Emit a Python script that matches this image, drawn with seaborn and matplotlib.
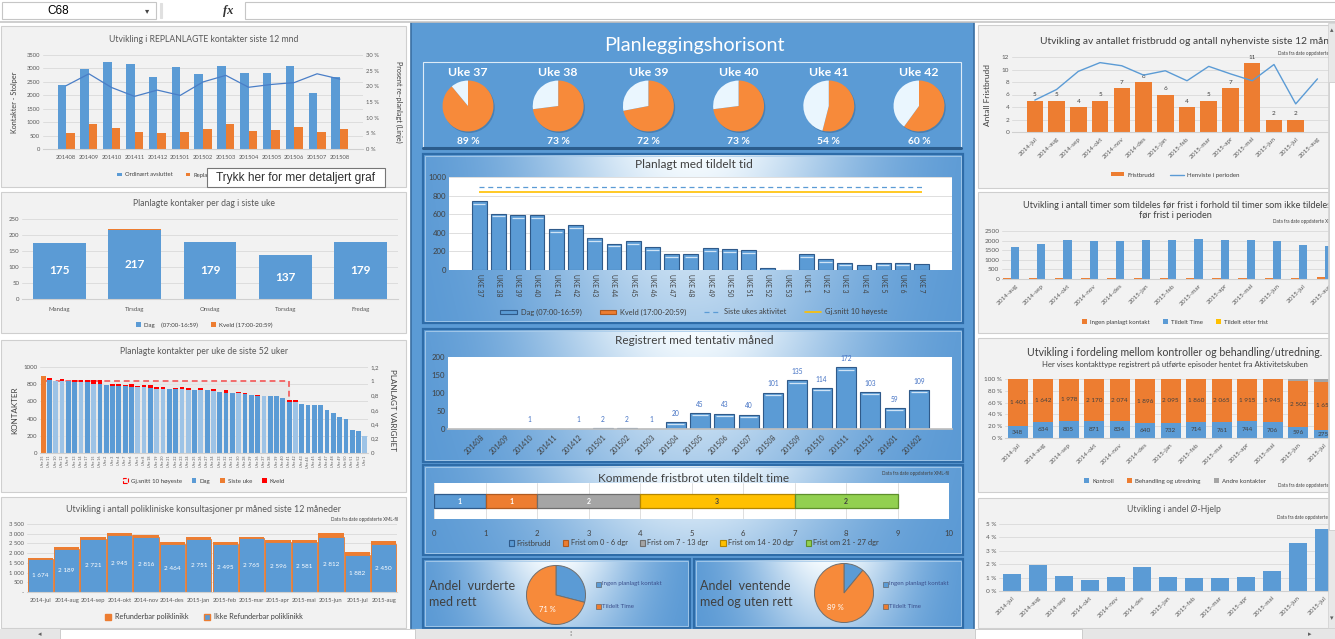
import numpy as np
import pandas as pd
import matplotlib
matplotlib.use('Agg')
import matplotlib.pyplot as plt
import matplotlib.colors as mcolors
from matplotlib.patches import Rectangle, Patch, Circle
from matplotlib.lines import Line2D
import seaborn as sns

# ---------------- data ----------------
# Utvikling i REPLANLAGTE kontakter siste 12 mnd
repl_mnd = ['201408', '201409', '201410', '201411', '201412', '201501', '201502',
            '201503', '201504', '201505', '201506', '201507', '201508']
ordinaert = [2380, 2970, 3230, 3150, 2670, 3050, 2790, 3080, 2820, 2820, 3080, 2080, 2670]
replanlagte = [600, 940, 790, 640, 600, 640, 750, 940, 680, 720, 830, 640, 750]
pct_replan = [20.2, 24.0, 19.6, 16.8, 18.8, 17.1, 21.4, 23.5, 19.7, 20.6, 21.2, 24.0, 22.3]

# Planlagte kontaker per dag i siste uke
dager = ['Mandag', 'Tirsdag', 'Onsdag', 'Torsdag', 'Fredag']
dag_antall = [175, 217, 179, 137, 179]
kveld_antall = [0, 3, 0, 0, 0]

# Planlagte kontakter per uke de siste 52 uker (sortert etter antall)
uke52 = ['35', '11', '10', '12', '9', '13', '14', '17', '15', '16', '2', '3', '4',
         '7', '6', '5', '8', '18', '19', '20', '21', '22', '23', '24', '25', '26',
         '27', '34', '33', '32', '31', '30', '28', '29', '36', '37', '38', '39', '40',
         '41', '42', '43', '44', '45', '46', '47', '48', '49', '50', '51', '52', '1']
uke52_dag = [890, 852, 840, 832, 832, 820, 820, 820, 808, 808, 793, 781, 781, 781, 770, 770,
             770, 758, 750, 742, 742, 742, 742, 734, 734, 734, 734, 723, 711, 695, 703, 695,
             688, 676, 664, 664, 664, 664, 640, 594, 594, 570, 559, 559, 559, 500, 469, 418,
             395, 266, 254, 199]
uke52_kveld = [8, 23, 0, 31, 8, 31, 31, 31, 43, 43, 0, 27, 27, 12, 38, 11, 23, 35, 20, 28,
               0, 12, 28, 24, 0, 24, 0, 23, 0, 39, 0, 16, 15, 0, 12, 0, 0, 0, 0, 23, 23,
               0, 0, 0, 0, 0, 0, 0, 0, 0, 0, 0]
uke52_type = ['S', 'D', 'L', 'L', 'D', 'D', 'L', 'D', 'L', 'D', 'D', 'D', 'D', 'D', 'D', 'L',
              'L', 'D', 'L', 'L', 'D', 'D', 'L', 'L', 'D', 'L', 'D', 'L', 'D', 'D', 'D', 'L',
              'D', 'D', 'D', 'L', 'D', 'D', 'D', 'D', 'L', 'D', 'D', 'D', 'D', 'D', 'D', 'D',
              'D', 'D', 'D', 'L']
gj_snitt_varighet = [0] + [1] * 39 + [0] * 12

# Utvikling i antall polikliniske konsultasjoner
poli_mnd = ['2014-jul', '2014-aug', '2014-sep', '2014-okt', '2014-nov', '2014-des', '2015-jan',
            '2015-feb', '2015-mar', '2015-apr', '2015-mai', '2015-jun', '2015-jul', '2015-aug']
ikke_refunderbar = [1674, 2189, 2721, 2945, 2816, 2464, 2751, 2495, 2765, 2596, 2581, 2812, 1882, 2450]
refunderbar = [90, 115, 86, 105, 130, 100, 90, 87, 77, 90, 105, 238, 163, 184]

# Planleggingshorisont
uker_pie = ['Uke 37', 'Uke 38', 'Uke 39', 'Uke 40', 'Uke 41', 'Uke 42']
andel_tildelt = [89, 73, 72, 73, 54, 60]

# Planlagt med tildelt tid
uker_tid = ['UKE 37', 'UKE 38', 'UKE 39', 'UKE 40', 'UKE 41', 'UKE 42', 'UKE 43', 'UKE 44',
            'UKE 45', 'UKE 46', 'UKE 47', 'UKE 48', 'UKE 49', 'UKE 50', 'UKE 51', 'UKE 52',
            'UKE 53', 'UKE 1', 'UKE 2', 'UKE 3', 'UKE 4', 'UKE 5', 'UKE 6', 'UKE 7']
dag_tid = [737, 604, 590, 590, 439, 482, 342, 284, 309, 245, 169, 169, 234, 223, 212, 22,
           0, 169, 115, 79, 50, 79, 79, 61]
siste_ukes_aktivitet = 890
gj_snitt_10_hoyeste = 835

# Registrert med tentativ måned
tent_mnd = ['201408', '201409', '201410', '201411', '201412', '201501', '201502', '201503',
            '201504', '201505', '201506', '201507', '201508', '201509', '201510', '201511',
            '201512', '201601', '201602']
tent_antall = [0, 0, 1, 0, 1, 2, 2, 1, 20, 45, 43, 40, 101, 135, 114, 172, 103, 59, 109]

# Kommende fristbrot uten tildelt time
frist_kat = ['Fristbrudd', 'Frist om 0 - 6 dgr', 'Frist om 7 - 13 dgr',
             'Frist om 14 - 20 dgr', 'Frist om 21 - 27 dgr']
frist_antall = [1, 1, 2, 3, 2]

# Andel-kaker (Ingen planlagt kontakt, Tildelt Time)
andel_vurderte = [29, 71]
andel_ventende = [11, 89]

# Fristbrudd og nyhenviste
fristbrudd = [5, 5, 4, 5, 7, 8, 6, 4, 5, 7, 11, 2, 2]
henviste = [5.1, 6.8, 9.7, 11.1, 10.6, 9.1, 9.8, 8.2, 10.5, 9.3, 8.2, 10.8, 4.5, 8.5]

# Timer tildelt før frist
timer_mnd = ['2014-aug', '2014-sep', '2014-okt', '2014-nov', '2014-des', '2015-jan', '2015-feb',
             '2015-mar', '2015-apr', '2015-mai', '2015-jun', '2015-jul', '2015-aug']
ingen_planlagt = [50, 50, 50, 50, 50, 50, 50, 50, 50, 50, 50, 50, 105]
tildelt_time = [1672, 1831, 2042, 1990, 1990, 2042, 2042, 2095, 2042, 2042, 1990, 1778, 1725]
tildelt_etter = [0, 0, 0, 0, 0, 0, 0, 0, 0, 0, 0, 0, 0]

# Fordeling kontroll / behandling
ford_mnd = poli_mnd[:13]
kontroll = [348, 634, 805, 871, 834, 640, 732, 714, 761, 744, 706, 596, 275]
behandling = [1401, 1642, 1978, 2170, 2074, 1896, 2095, 1860, 2065, 1915, 1945, 2502, 1655]
andre = [0, 0, 0, 0, 0, 0, 0, 0, 0, 0, 0, 130, 100]

# Andel Ø-hjelp (%)
ohjelp_pct = [1.3, 1.95, 1.15, 0.85, 1.05, 1.8, 1.05, 1.0, 1.0, 1.05, 1.5, 3.6, 4.6]

# ---------------- style ----------------
BLUE = '#5B9BD5'
ORANGE = '#ED7D31'
LBLUE = '#9DC3E6'
RED = '#FF0000'
GRAY = '#A5A5A5'
YELLOW = '#FFC000'
GREEN = '#92D050'
PIE_OR = '#F78A3A'
PIE_LT = '#EAF6FE'
PANEL = '#F2F2F2'
TXT = '#595959'
DARK = '#404040'
CBLUE = '#5B9BD5'

sns.set_theme(style='white')
plt.rcParams['font.family'] = ['Lato', 'DejaVu Sans']
plt.rcParams['patch.force_edgecolor'] = False
plt.rcParams['patch.edgecolor'] = 'none'

W, H = 1335, 639
fig = plt.figure(figsize=(W / 100, H / 100), dpi=100)
fig.patch.set_facecolor('white')


def px_axes(x, y, w, h, z=2):
    ax = fig.add_axes([x / W, 1 - (y + h) / H, w / W, h / H])
    ax.set_zorder(z)
    return ax


bg = px_axes(0, 0, W, H, z=0)
bg.axis('off')


def txt(x, y, s, size=6, color=TXT, ha='center', va='center', ax=None, z=6, **kw):
    (ax or bg).text(x, y, s, fontsize=size, color=color, ha=ha, va=va, zorder=z, **kw)


def box(x, y, w, h, fc, ec=None, lw=0.8, ax=None, z=1):
    (ax or bg).add_patch(Rectangle((x, y), w, h, fc=fc, ec=ec or fc, lw=lw, zorder=z))


def light_style(ax, size=4.4):
    ax.set_facecolor('none')
    for s in ax.spines.values():
        s.set_visible(False)
    ax.spines['bottom'].set_visible(True)
    ax.spines['bottom'].set_color('#D0D0D0')
    ax.spines['bottom'].set_linewidth(0.8)
    ax.yaxis.grid(True, color='#D9D9D9', lw=0.6)
    ax.xaxis.grid(False)
    ax.set_axisbelow(True)
    ax.tick_params(length=0, labelsize=size, colors=TXT, pad=2)
    ax.set_xlabel('')
    ax.set_ylabel('')


def twin_style(ax, size=4.4):
    for s in ax.spines.values():
        s.set_visible(False)
    ax.tick_params(length=0, labelsize=size, colors=TXT, pad=2)
    ax.grid(False)


def blue_style(ax, size=5.5):
    ax.set_facecolor('white')
    for s in ax.spines.values():
        s.set_visible(False)
    ax.tick_params(length=0, labelsize=size, colors=DARK, pad=2)
    ax.set_xlabel('')
    ax.set_ylabel('')


def rot45(ax):
    for lab in ax.get_xticklabels():
        lab.set_rotation(45)
        lab.set_ha('right')
        lab.set_rotation_mode('anchor')


def legend_at(ax, handles, labels, cx, cy, size=4.6, **kw):
    opts = dict(loc='center', bbox_to_anchor=(cx / W, 1 - cy / H), bbox_transform=fig.transFigure,
                ncol=len(labels), frameon=False, fontsize=size, handlelength=0.8,
                handleheight=0.8, handletextpad=0.5, columnspacing=2.2, borderaxespad=0,
                borderpad=0, labelcolor=DARK)
    opts.update(kw)
    leg = ax.legend(handles, labels, **opts)
    leg.set_zorder(5)
    return leg


def grad_panel(x0, y0, x1, y1):
    xs = np.linspace(0, 1, 240)
    ys = np.linspace(0, 1, 80)
    X, Y = np.meshgrid(xs, ys)
    f = np.exp(-((X - 0.5) / 0.3) ** 2) * (1 - 0.45 * Y)
    c0 = np.array(mcolors.to_rgb('#5596D3'))
    c1 = np.array([0.97, 0.99, 1.0])
    img = c0 + (c1 - c0) * f[..., None]
    bg.imshow(img, extent=(x0, x1, y1, y0), aspect='auto', interpolation='bilinear', zorder=2)
    bg.add_patch(Rectangle((x0, y0), x1 - x0, y1 - y0, fill=False, ec='#2E6CA8', lw=1.6, zorder=3))
    bg.add_patch(Rectangle((x0 + 2, y0 + 2), x1 - x0 - 4, y1 - y0 - 4, fill=False,
                           ec='#A9CCEB', lw=0.6, zorder=3))


def bevel(ax, vals, width, frac):
    lo, hi = ax.get_ylim()
    off = (hi - lo) * frac
    for i, v in enumerate(vals):
        if v > off * 2.5:
            ax.plot([i - width * 0.42, i + width * 0.42], [v - off, v - off],
                    color='#CFE3F5', lw=0.9, solid_capstyle='butt', zorder=4)


def fmt(v):
    return f'{v:,}'.replace(',', ' ')


# ---------------- panels ----------------
for (x, y, w, h) in [(1, 26, 405, 161), (1, 192, 405, 141), (1, 340, 405, 152), (1, 497, 405, 131),
                     (978, 25, 362, 163), (978, 192, 362, 141), (978, 338, 362, 154),
                     (978, 498, 362, 130)]:
    box(x, y, w, h, PANEL, '#CFCFCF', lw=0.8)

box(411, 22, 563, 608, CBLUE, '#3A6FA3', lw=1.2)
box(423, 62, 538, 86, 'none', '#DDEBF7', lw=0.8, z=3)
bg.plot([423, 961], [148, 148], color='#2B5C8C', lw=2.2, zorder=3)
for rect in [(423, 154, 963, 323), (423, 329, 963, 462), (423, 465, 963, 555),
             (423, 559, 690, 628), (694, 559, 963, 628)]:
    grad_panel(*rect)

# ---------------- Utvikling i REPLANLAGTE kontakter ----------------
txt(204, 39, 'Utvikling i REPLANLAGTE kontakter siste 12 mnd', 6.2)
ax = px_axes(43, 55, 320, 94)
df = pd.DataFrame({'mnd': repl_mnd * 2,
                   'serie': ['Ordinært avsluttet'] * len(repl_mnd) + ['Replanlagte'] * len(repl_mnd),
                   'antall': ordinaert + replanlagte})
sns.barplot(data=df, x='mnd', y='antall', hue='serie', palette=[BLUE, ORANGE], saturation=1,
            width=0.75, legend=False, linewidth=0, ax=ax)
light_style(ax, 4.2)
ax.set_ylim(0, 3500)
ax.set_yticks(range(0, 3501, 500))
ax.tick_params(axis='x', pad=4)
axr = ax.twinx()
axr.plot(range(len(repl_mnd)), pct_replan, color='#4A7EC7', lw=0.9)
axr.set_ylim(0, 30)
axr.set_yticks(range(0, 31, 5))
axr.set_yticklabels([f'{v} %' for v in range(0, 31, 5)])
twin_style(axr, 4.2)
txt(15, 102, 'Kontakter - Stolper', 5.2, DARK, rotation=90)
txt(399, 102, 'Prosent re-planlagt (Linje)', 5.2, DARK, rotation=270)
legend_at(ax, [Patch(fc=BLUE), Patch(fc=ORANGE), Line2D([], [], color='#4A7EC7', lw=1)],
          ['Ordinært avsluttet', 'Replanlagte', 'Prosent replanlagt'], 204, 175, 4.2,
          handleheight=0.6)

# ---------------- Planlagte kontaker per dag ----------------
txt(204, 203, 'Planlagte kontaker per dag i siste uke', 6.2)
ax = px_axes(22, 219, 376, 80)
tot = [d + k for d, k in zip(dag_antall, kveld_antall)]
sns.barplot(x=dager, y=tot, color=ORANGE, saturation=1, width=0.7, linewidth=0, ax=ax)
sns.barplot(x=dager, y=dag_antall, color=BLUE, saturation=1, width=0.7, linewidth=0, ax=ax)
light_style(ax, 4.4)
ax.set_ylim(0, 250)
ax.set_yticks(range(0, 251, 50))
ax.tick_params(axis='x', pad=6)
for i, v in enumerate(dag_antall):
    ax.text(i, v / 2, str(v), ha='center', va='center', color='white', fontsize=8.5, weight='bold')
legend_at(ax, [Patch(fc=BLUE), Patch(fc=ORANGE)],
          ['Dag    (07:00-16:59)', 'Kveld (17:00-20:59)'], 204, 325, 4.4, handleheight=0.7)

# ---------------- Planlagte kontakter per uke ----------------
txt(204, 352, 'Planlagte kontakter per uke de siste 52 uker', 6.2)
ax = px_axes(40, 367, 328, 86, z=3)
ukelab = [f'Uke {u}' for u in uke52]
tot = [d + k for d, k in zip(uke52_dag, uke52_kveld)]
sns.barplot(x=ukelab, y=tot, color=RED, saturation=1, width=0.75, linewidth=0, ax=ax)
sns.barplot(x=ukelab, y=uke52_dag, color=BLUE, saturation=1, width=0.75, linewidth=0, ax=ax)
tcol = {'S': ORANGE, 'D': BLUE, 'L': LBLUE}
for p, t in zip(ax.patches[len(ukelab):], uke52_type):
    p.set_facecolor(tcol[t])
light_style(ax, 4.4)
ax.yaxis.grid(False)
ax.set_ylim(0, 1000)
ax.set_yticks(range(0, 1001, 200))
ax.tick_params(axis='x', labelsize=2.6, rotation=90, pad=2)
# area series sits behind the bars, on its own axis
axr = px_axes(40, 367, 328, 86, z=2)
axr.set_facecolor('none')
axr.yaxis.tick_right()
axr.set_xlim(ax.get_xlim())
for yv in range(200, 1001, 200):
    axr.axhline(yv * 1.2 / 1000, color='#D9D9D9', lw=0.6, zorder=0)
idx = [i for i, v in enumerate(gj_snitt_varighet) if v > 0]
xs = [idx[0] - 0.5, idx[-1], idx[-1]]
ys = [gj_snitt_varighet[idx[0]], gj_snitt_varighet[idx[-1]], 0]
axr.fill_between(xs[:2], ys[:2], color='#E6E6E6', alpha=0.7, zorder=1)
axr.plot(xs, ys, color='#F26B6B', lw=1.4, ls=(0, (3, 2)), zorder=2)
axr.set_ylim(0, 1.2)
axr.set_yticks(np.arange(0, 1.21, 0.2))
axr.set_yticklabels(['0', '0,2', '0,4', '0,6', '0,8', '1', '1,2'])
axr.set_xticks([])
twin_style(axr, 4.4)
txt(15, 410, 'KONTAKTER', 5.8, DARK, rotation=90)
txt(393, 410, 'PLANLAGT VARIGHET', 5.8, DARK, rotation=270)
legend_at(ax, [Patch(fc='#EDEDED', ec=RED, ls='--', lw=0.8), Patch(fc=BLUE), Patch(fc=ORANGE),
               Patch(fc=RED)],
          ['Gj.snitt 10 høyeste', 'Dag', 'Siste uke', 'Kveld'], 204, 481, 4.4,
          handleheight=0.7, columnspacing=1.6)

# ---------------- Polikliniske konsultasjoner ----------------
txt(204, 510, 'Utvikling i antall polikliniske konsultasjoner pr måned siste 12 måneder', 6.4)
txt(398, 519, 'Data fra date oppdaterte XML-fil', 3.3, DARK, ha='right')
ax = px_axes(27, 524, 370, 68)
tot = [a + b for a, b in zip(ikke_refunderbar, refunderbar)]
sns.barplot(x=poli_mnd, y=tot, color=ORANGE, saturation=1, width=0.96, linewidth=0, ax=ax)
sns.barplot(x=poli_mnd, y=ikke_refunderbar, color=BLUE, saturation=1, width=0.96,
            edgecolor=ORANGE, linewidth=0.6, ax=ax)
light_style(ax, 4.2)
ax.set_ylim(0, 3500)
ax.set_yticks(range(0, 3501, 500))
ax.set_yticklabels(['-'] + [fmt(v) for v in range(500, 3501, 500)])
ax.tick_params(axis='x', pad=4)
for i, v in enumerate(ikke_refunderbar):
    ax.text(i, v / 2, fmt(v), ha='center', va='center', color='white', fontsize=4.6)
legend_at(ax, [Patch(fc=ORANGE, ec=ORANGE), Patch(fc=BLUE, ec=ORANGE)],
          ['Refunderbar poliklinikk', 'Ikke Refunderbar poliklinikk'], 204, 617, 5.2,
          handleheight=0.8)

# ---------------- Planleggingshorisont ----------------
txt(694, 45, 'Planleggingshorisont', 14.3, 'white')
for i, (uke, pct) in enumerate(zip(uker_pie, andel_tildelt)):
    cx = 468 + i * 90.2
    txt(cx, 72, uke, 8.8, 'white', weight='bold')
    txt(cx, 142, f'{pct} %', 7.4, 'white', weight='bold')
    pa = px_axes(cx - 28, 78, 56, 56, z=3)
    pa.add_patch(Circle((0.05, -0.06), 1.0, fc='#3A6A99', alpha=0.55, zorder=0))
    pa.pie([pct, 100 - pct], colors=[PIE_OR, PIE_LT], startangle=90, counterclock=False,
           wedgeprops=dict(linewidth=0))
    pa.set_xlim(-1.1, 1.1)
    pa.set_ylim(-1.1, 1.1)
    pa.set_aspect('equal')
    pa.axis('off')

# ---------------- Planlagt med tildelt tid ----------------
txt(694, 165, 'Planlagt med tildelt tid', 8.6, DARK)
ax = px_axes(449, 177, 503, 93)
sns.barplot(x=uker_tid, y=dag_tid, color=BLUE, saturation=1, width=0.77,
            edgecolor='#2F5A8A', linewidth=0.8, ax=ax)
blue_style(ax, 5.6)
ax.yaxis.grid(True, color='#D9D9D9', lw=0.6)
ax.set_axisbelow(True)
ax.set_ylim(0, 1000)
ax.set_yticks(range(0, 1001, 200))
bevel(ax, dag_tid, 0.77, 0.028)
n = len(uker_tid)
ax.hlines(siste_ukes_aktivitet, 0, n - 1, colors='#5B9BD5', lw=0.9, linestyles=(0, (4, 3)))
ax.hlines(gj_snitt_10_hoyeste, 0, n - 1, colors=YELLOW, lw=1.2)
ax.tick_params(axis='x', labelsize=4.8, rotation=270, pad=3)
legend_at(ax, [Patch(fc=BLUE, ec='#2F5A8A', lw=0.8), Patch(fc=ORANGE, ec='#B05A20', lw=0.8),
               Line2D([], [], color='#5B9BD5', lw=0.9, ls=(0, (4, 3))),
               Line2D([], [], color=YELLOW, lw=1.2)],
          ['Dag (07:00-16:59)', 'Kveld (17:00-20:59)', 'Siste ukes aktivitet', 'Gj.snitt 10 høyeste'],
          694, 312, 5.4, handlelength=2.2, handleheight=0.45, columnspacing=2.4)

# ---------------- Registrert med tentativ måned ----------------
txt(694, 340, 'Registrert med tentativ måned', 8.5, DARK)
ax = px_axes(448, 357, 504, 72)
sns.barplot(x=tent_mnd, y=tent_antall, color=BLUE, saturation=1, width=0.83,
            edgecolor='#2F5A8A', linewidth=0.8, ax=ax)
blue_style(ax, 5.6)
ax.set_ylim(0, 200)
ax.set_yticks(range(0, 201, 50))
ax.spines['bottom'].set_visible(True)
ax.spines['bottom'].set_color('#BFBFBF')
bevel(ax, tent_antall, 0.83, 0.035)
for i, v in enumerate(tent_antall):
    if v > 0:
        ax.text(i, v + 24, str(v), ha='center', va='center', fontsize=4.8, color='#4472C4')
ax.tick_params(axis='x', labelsize=5.0, pad=3)
rot45(ax)

# ---------------- Kommende fristbrot ----------------
txt(694, 478, 'Kommende fristbrot uten tildelt time', 8.5, DARK)
txt(949, 474, 'Data fra date oppdaterte XML-fil', 3.3, DARK, ha='right')
ax = px_axes(434, 483, 515, 36)
blue_style(ax, 5.6)
fcols = [BLUE, ORANGE, GRAY, YELLOW, GREEN]
ecols = ['#2F5A8A', '#B05A20', '#6E6E6E', '#B38600', '#5E8F2C']
tcols = ['white', 'white', 'white', DARK, DARK]
left = 0
for v, c, e, t in zip(frist_antall, fcols, ecols, tcols):
    ax.barh(0, v, left=left, height=1.0, color=c, edgecolor=e, lw=0.9, zorder=3)
    ax.text(left + v / 2, 0, str(v), ha='center', va='center', fontsize=5, color=t,
            weight='bold', zorder=4)
    left += v
ax.set_xlim(0, 10)
ax.set_ylim(-1.3, 1.3)
ax.set_yticks([])
ax.set_xticks(range(0, 11))
ax.xaxis.grid(True, color='#D9D9D9', lw=0.6)
ax.set_axisbelow(True)
ax.tick_params(axis='x', pad=8)
legend_at(ax, [Patch(fc=c, ec=e, lw=0.8) for c, e in zip(fcols, ecols)], frist_kat, 694, 543, 5.4,
          handlelength=0.7, handleheight=0.7, handletextpad=0.3, columnspacing=1.6)

# ---------------- Andel-kaker ----------------
pie_sets = [('Andel  vurderte\nmed rett', andel_vurderte, 429, 556, 595, 601),
            ('Andel  ventende\nmed og uten rett', andel_ventende, 700, 844, 593, 888)]
for title, vals, tx, cx, cy, lx in pie_sets:
    txt(tx, 594, title, 9, DARK, ha='left', linespacing=1.35)
    pa = px_axes(cx - 31, cy - 31, 62, 62, z=3)
    pa.pie(vals, colors=['#5B9BD5', PIE_OR], startangle=90, counterclock=False,
           wedgeprops=dict(linewidth=0.7, edgecolor='#6F6F6F'))
    pa.set_xlim(-1.05, 1.05)
    pa.set_ylim(-1.05, 1.05)
    pa.set_aspect('equal')
    pa.axis('off')
    pa.text(-0.28, -0.5, f'{vals[1]} %', ha='center', va='center', fontsize=5.4, color='white')
    for j, (lab, c) in enumerate(zip(['Ingen planlagt kontakt', 'Tildelt Time'], ['#5B9BD5', ORANGE])):
        yy = 584 + j * 22
        box(lx - 5, yy - 2.5, 5, 5, c, '#555555', lw=0.4, z=4)
        txt(lx + 1, yy, lab, 4.4, '#3B4F8C', ha='left')

# ---------------- Fristbrudd og nyhenviste ----------------
txt(1040, 42, 'Utvikling av antallet fristbrudd og antall nyhenviste siste 12 måneder', 7.4, DARK,
    ha='left')
txt(1278, 54, 'Data fra date oppdaterte XML-fil', 3.3, DARK, ha='left')
ax = px_axes(1012, 57, 320, 75)
sns.barplot(x=poli_mnd[:len(fristbrudd)], y=fristbrudd, order=poli_mnd, color=ORANGE,
            saturation=1, width=0.76, linewidth=0, ax=ax)
light_style(ax, 4.6)
ax.set_ylim(0, 12)
ax.set_yticks(range(0, 13, 2))
for i, v in enumerate(fristbrudd):
    ax.text(i, v + 0.55, str(v), ha='center', va='bottom', fontsize=4.6, color=DARK)
ax.tick_params(axis='x', pad=3)
rot45(ax)
axr = ax.twinx()
axr.plot(range(len(henviste)), henviste, color=BLUE, lw=1.0)
axr.set_ylim(0, 12)
axr.set_yticks([])
twin_style(axr)
txt(987, 95, 'Antall Fristbrudd', 6, DARK, rotation=90)
legend_at(ax, [Patch(fc=ORANGE), Line2D([], [], color=BLUE, lw=1)],
          ['Fristbrudd', 'Henviste i perioden'], 1175, 175, 4.4, handlelength=2.2,
          handleheight=0.6, columnspacing=2.6)

# ---------------- Timer tildelt før frist ----------------
txt(1023, 205, 'Utvikling i antall timer som tildeles før frist i forhold til timer som ikke tildeles',
    6.6, DARK, ha='left')
txt(1175, 215, 'før frist i perioden', 6.6, DARK)
txt(1273, 221, 'Data fra date oppdaterte XML-fil', 3.3, DARK, ha='left')
ax = px_axes(1002, 231, 340.6, 48)
m = len(timer_mnd)
df = pd.DataFrame({'mnd': timer_mnd * 3,
                   'serie': ['Ingen planlagt kontakt'] * m + ['Tildelt Time'] * m + ['Tildelt etter frist'] * m,
                   'timer': ingen_planlagt + tildelt_time + tildelt_etter})
sns.barplot(data=df, x='mnd', y='timer', hue='serie', palette=[ORANGE, BLUE, YELLOW],
            saturation=1, width=0.96, legend=False, linewidth=0, ax=ax)
light_style(ax, 4.6)
ax.set_ylim(0, 2500)
ax.set_yticks(range(0, 2501, 500))
ax.tick_params(axis='x', pad=3)
rot45(ax)
legend_at(ax, [Patch(fc=ORANGE), Patch(fc=BLUE), Patch(fc=YELLOW)],
          ['Ingen planlagt kontakt', 'Tildelt Time', 'Tildelt etter frist'], 1175, 322, 4.4,
          handleheight=0.7)

# ---------------- Fordeling kontroll / behandling ----------------
txt(1175, 353, 'Utvikling i fordeling mellom kontroller og behandling/utredning.', 7.6, DARK)
txt(1175, 365, 'Her vises kontakttype registrert på utførte episoder hentet fra Aktivitetskuben',
    5.6, DARK)
ax = px_axes(1005, 379, 331.5, 59)
tot = [a + b + c for a, b, c in zip(kontroll, behandling, andre)]
p_kon = [100 * a / t for a, t in zip(kontroll, tot)]
p_kb = [100 * (a + b) / t for a, b, t in zip(kontroll, behandling, tot)]
sns.barplot(x=ford_mnd, y=[100] * len(ford_mnd), color=GRAY, saturation=1, width=0.78, linewidth=0, ax=ax)
sns.barplot(x=ford_mnd, y=p_kb, color=ORANGE, saturation=1, width=0.78, linewidth=0, ax=ax)
sns.barplot(x=ford_mnd, y=p_kon, color=BLUE, saturation=1, width=0.78, linewidth=0, ax=ax)
light_style(ax, 4.6)
ax.set_ylim(0, 100)
ax.set_yticks(range(0, 101, 20))
ax.set_yticklabels([f'{v} %' for v in range(0, 101, 20)])
for i in range(len(ford_mnd)):
    ax.text(i, p_kon[i] / 2, fmt(kontroll[i]), ha='center', va='center', fontsize=4.6, color=DARK)
    ax.text(i, (p_kon[i] + p_kb[i]) / 2, fmt(behandling[i]), ha='center', va='center',
            fontsize=4.6, color=DARK)
ax.tick_params(axis='x', pad=3)
rot45(ax)
legend_at(ax, [Patch(fc=BLUE), Patch(fc=ORANGE), Patch(fc=GRAY)],
          ['Kontroll', 'Behandling og utredning', 'Andre kontakter'], 1175, 481, 4.4,
          handleheight=0.7)
txt(1278, 486, 'Data fra date oppdaterte XML-fil', 3.3, DARK, ha='left')

# ---------------- Andel Ø-Hjelp ----------------
txt(1174, 509, 'Utvikling i andel Ø-Hjelp', 6.2)
txt(1277, 518, 'Data fra date oppdaterte XML-fil', 3.3, DARK, ha='left')
ax = px_axes(999, 524, 338, 67)
sns.barplot(x=ford_mnd, y=ohjelp_pct, color=BLUE, saturation=1, width=0.73, linewidth=0, ax=ax)
light_style(ax, 4.6)
ax.set_ylim(0, 5)
ax.set_yticks(range(0, 6))
ax.set_yticklabels([f'{v} %' for v in range(0, 6)])
ax.tick_params(axis='x', pad=3)
rot45(ax)

# ---------------- Excel chrome ----------------
top = px_axes(0, 0, W, H, z=20)
top.set_facecolor('none')
top.axis('off')
# tooltip
box(207, 168, 178, 19, '#FFFFFF', '#767676', lw=0.8, ax=top, z=5)
txt(296, 177.5, 'Trykk her for mer detaljert graf', 8.6, '#303030', ax=top, family='Liberation Sans')
# formula bar
box(0, 0, W, 21, 'white', 'white', ax=top)
top.plot([0, W], [21.5, 21.5], color='#C6C6C6', lw=1.2)
box(2, 2, 154, 17, 'white', '#C6C6C6', ax=top)
txt(58, 11, 'C68', 8.5, '#000000', ax=top, family='Liberation Sans')
txt(147, 11, '▾', 6, '#444444', ax=top, family='DejaVu Sans')
box(160, 3, 2, 15, '#E0E0E0', '#E0E0E0', ax=top)
txt(228, 11, 'fx', 9, '#333333', ax=top, family='Liberation Serif', style='italic', weight='bold')
box(245, 2, 1092, 17, 'white', '#C6C6C6', ax=top)
# vertical scrollbar
box(1328, 23, 8, 605, '#E8E8E8', '#CFCFCF', lw=0.5, ax=top)
box(1329, 82, 6, 448, 'white', '#C4C4C4', lw=0.5, ax=top)
txt(1332, 30, '▴', 5, '#606060', ax=top, family='DejaVu Sans')
txt(1332, 618, '▾', 5, '#606060', ax=top, family='DejaVu Sans')
# bottom bar
box(0, 628.5, W, 11, '#E6E6E6', '#E6E6E6', ax=top)
box(60, 629, 355, 10, 'white', '#BDBDBD', lw=0.5, ax=top)
box(975, 629, 107, 10, 'white', '#BDBDBD', lw=0.5, ax=top)
txt(40, 634, '◂', 5, '#606060', ax=top, family='DejaVu Sans')
txt(570, 634, '⁞', 5, '#606060', ax=top, family='DejaVu Sans')
txt(1310, 634, '▸', 5, '#606060', ax=top, family='DejaVu Sans')

for a in (bg, top):
    a.set_xlim(0, W)
    a.set_ylim(H, 0)

fig.savefig('out.png', dpi=100, facecolor='white')
